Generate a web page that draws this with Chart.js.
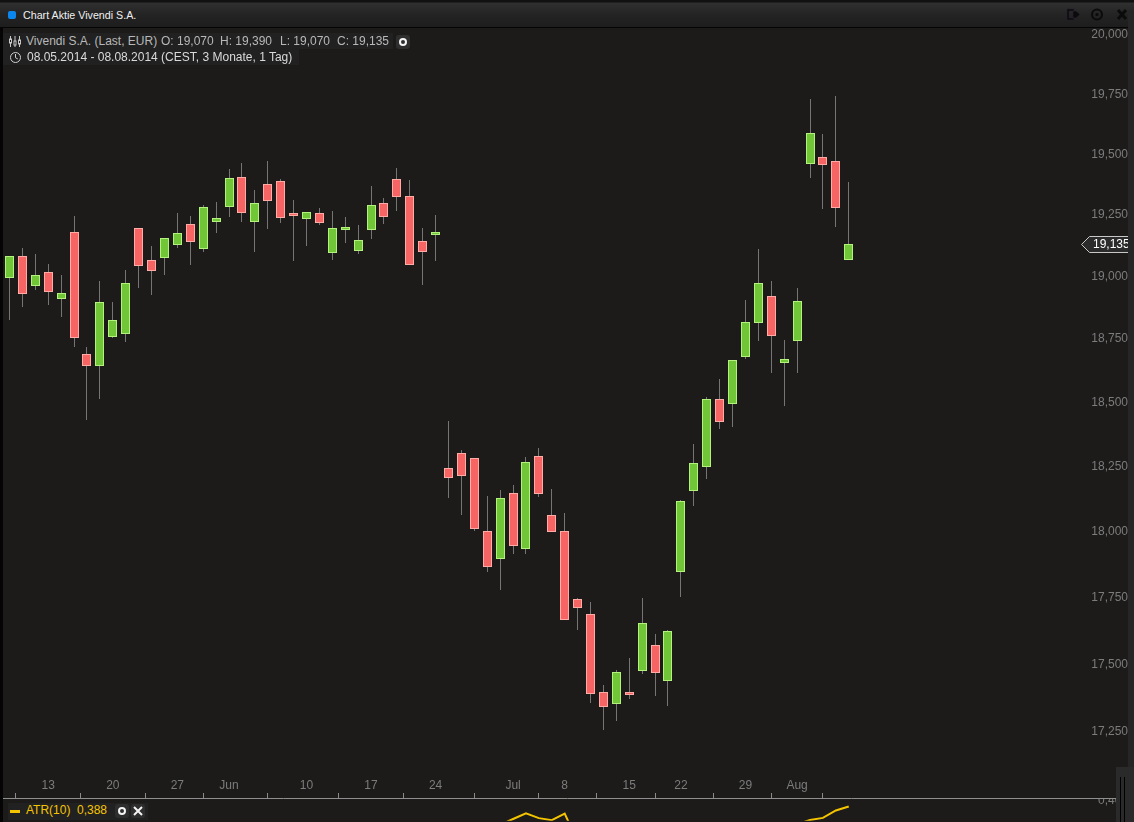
<!DOCTYPE html>
<html lang="de">
<head>
<meta charset="utf-8">
<title>Chart Aktie Vivendi S.A.</title>
<script src="https://cdn.jsdelivr.net/npm/chart.js@4"></script>
<style>
html,body{margin:0;padding:0;background:#1c1b1a;width:1134px;height:822px;overflow:hidden;font-family:"Liberation Sans",Arial,sans-serif}
canvas{position:absolute;left:0;display:block}
.abs{position:absolute;white-space:nowrap}
#titlebar{left:0;top:0;width:1134px;height:28px;box-sizing:border-box;background:linear-gradient(#111 0,#111 2px,#303030 3px,#242424 14px,#1d1d1d 27px);border-bottom:1px solid #050505}
#leftedge{left:0;top:28px;width:3px;height:794px;background:#050505}
#strip{left:1128px;top:10px;width:6px;height:757px;background:#262626}
#scroll{left:1116px;top:767px;width:18px;height:55px;background:#2a2a2a}
.txt{font-size:12px;line-height:14px}
.btn{width:14px;height:14px;border-radius:3px;background:#2e2e2e}
</style>
</head>
<body>
<canvas id="price" width="1134" height="800" style="top:0"></canvas>
<canvas id="atr" width="1134" height="23" style="top:799px"></canvas>

<div class="abs" id="titlebar"></div>
<div class="abs" style="left:8px;top:11px;width:8px;height:8px;border-radius:2px;background:#0a86ee"></div>
<div class="abs" style="left:23px;top:8px;font-size:10.7px;line-height:14px;color:#f0f0f0">Chart Aktie Vivendi S.A.</div>
<svg class="abs" style="left:1064px;top:6px" width="66" height="17" viewBox="0 0 66 17">
  <path d="M3 3h7v2H5v7h5v2H3z M9 5h3l4 3.5-4 3.5H9z" fill="#0b0b0b" stroke="#2a2030" stroke-width=".6"/>
  <circle cx="33" cy="8.5" r="5" fill="none" stroke="#0b0b0b" stroke-width="2"/><circle cx="33" cy="8.5" r="1.6" fill="#0b0b0b"/>
  <path d="M54 4l8 9M62 4l-8 9" stroke="#0b0b0b" stroke-width="3"/>
</svg>

<div class="abs" style="left:3px;top:33px;width:390px;height:16px;background:#212121"></div>
<div class="abs" style="left:3px;top:49px;width:296px;height:16px;background:#212121"></div>
<svg class="abs" style="left:8px;top:35px" width="14" height="13" viewBox="0 0 14 13">
  <g stroke="#c8c8c8" fill="none" stroke-width="1"><path d="M2.5 1v11M7 1v11M11.5 1v11"/><rect x="1.5" y="4" width="2" height="4" fill="#1c1c1c"/><rect x="6" y="6" width="2" height="4" fill="#1c1c1c"/><rect x="10.5" y="5" width="2" height="4" fill="#1c1c1c"/></g>
</svg>
<svg class="abs" style="left:9px;top:51px" width="13" height="13" viewBox="0 0 13 13">
  <circle cx="6.5" cy="6.5" r="5" fill="none" stroke="#d0d0d0" stroke-width="1"/><path d="M6.5 3v3.7l2.3 1.3" fill="none" stroke="#d0d0d0" stroke-width="1"/>
</svg>
<div class="abs txt" style="left:26px;top:34px;color:#b8b8b8">Vivendi S.A. (Last, EUR)</div>
<div class="abs txt" style="left:161px;top:34px;color:#b8b8b8">O: 19,070</div>
<div class="abs txt" style="left:220px;top:34px;color:#b8b8b8">H: 19,390</div>
<div class="abs txt" style="left:280px;top:34px;color:#b8b8b8">L: 19,070</div>
<div class="abs txt" style="left:337px;top:34px;color:#b8b8b8">C: 19,135</div>
<div class="abs btn" style="left:396px;top:35px"></div>
<svg class="abs" style="left:396px;top:35px" width="14" height="14"><circle cx="7" cy="7" r="3" fill="none" stroke="#f4f4f4" stroke-width="2"/></svg>
<div class="abs txt" style="left:27px;top:50px;color:#dadada">08.05.2014 - 08.08.2014 (CEST, 3 Monate, 1 Tag)</div>

<div class="abs" id="leftedge"></div>
<div class="abs" id="strip"></div>
<div class="abs" id="scroll"></div>
<div class="abs" style="left:1120px;top:777px;width:1px;height:45px;background:#000"></div>
<div class="abs" style="left:1124px;top:777px;width:1px;height:45px;background:#000"></div>

<div class="abs" style="left:8px;top:803px;width:140px;height:17px;background:#212121"></div>
<div class="abs" style="left:10px;top:810px;width:10px;height:3px;background:#f5c400"></div>
<div class="abs txt" style="left:26px;top:803px;color:#f5c400">ATR(10)</div>
<div class="abs txt" style="left:77px;top:803px;color:#f5c400">0,388</div>
<div class="abs btn" style="left:115px;top:804px"></div>
<svg class="abs" style="left:115px;top:804px" width="14" height="14"><circle cx="7" cy="7" r="3" fill="none" stroke="#f4f4f4" stroke-width="2"/></svg>
<div class="abs btn" style="left:131px;top:804px"></div>
<svg class="abs" style="left:131px;top:804px" width="14" height="14"><path d="M3 3l8 8M11 3l-8 8" stroke="#f4f4f4" stroke-width="2"/></svg>

<script>
// Prices in EUR, one entry per trading day
const opens = [19.000,19.087,18.968,19.022,18.915,19.184,18.694,18.649,18.764,18.776,19.201,19.070,19.081,19.134,19.217,19.117,19.227,19.289,19.410,19.224,19.381,19.394,19.254,19.239,19.262,19.101,19.194,19.109,19.195,19.303,19.402,19.331,19.148,19.174,18.250,18.308,18.285,18.004,17.900,18.150,17.938,18.293,18.066,18.004,17.747,17.690,17.400,17.355,17.397,17.480,17.575,17.440,17.848,18.160,18.253,18.516,18.498,18.684,18.820,18.925,18.661,18.748,19.466,19.492,19.475,19.070];
const highs = [19.087,19.120,19.096,19.055,19.011,19.251,18.723,18.988,18.902,19.031,19.201,19.128,19.160,19.263,19.251,19.296,19.308,19.444,19.468,19.356,19.477,19.402,19.316,19.267,19.283,19.271,19.247,19.213,19.373,19.324,19.448,19.399,19.202,19.255,18.431,18.317,18.285,18.139,18.163,18.182,18.290,18.325,18.167,18.074,17.752,17.737,17.427,17.483,17.527,17.752,17.617,17.630,18.124,18.341,18.524,18.596,18.670,18.910,19.116,18.988,18.751,18.958,19.734,19.588,19.747,19.390];
const lows = [18.830,18.883,18.950,18.890,18.843,18.724,18.435,18.518,18.759,18.743,18.958,18.930,19.011,19.120,19.053,19.104,19.181,19.247,19.226,19.104,19.198,19.222,19.068,19.128,19.213,19.071,19.141,19.096,19.157,19.218,19.271,19.053,18.969,19.068,18.132,18.067,18.005,17.850,17.782,17.918,17.918,18.136,18.002,17.670,17.632,17.361,17.262,17.295,17.376,17.468,17.387,17.350,17.755,18.101,18.205,18.400,18.408,18.675,18.745,18.618,18.491,18.618,19.405,19.280,19.204,19.070];
const closes = [19.087,18.935,19.010,18.944,18.937,18.760,18.649,18.901,18.829,18.977,19.049,19.028,19.160,19.180,19.146,19.286,19.241,19.405,19.264,19.303,19.313,19.242,19.250,19.265,19.220,19.201,19.201,19.152,19.294,19.247,19.330,19.053,19.105,19.184,18.210,18.218,18.014,17.870,18.134,17.949,18.270,18.148,18.002,17.670,17.715,17.395,17.347,17.474,17.391,17.657,17.473,17.628,18.119,18.266,18.516,18.428,18.670,18.821,18.977,18.768,18.674,18.905,19.591,19.461,19.285,19.135];
// ATR(10): only the stretches that rise into the visible strip of the lower pane
const atrIndex = [38,39,40,41,42,43,44,null,61,62,63,64,65];
const atrValues = [0.306,0.332,0.357,0.336,0.327,0.356,0.232,null,0.308,0.328,0.337,0.370,0.388];
const priceTicks = [20,19.75,19.5,19.25,19,18.75,18.5,18.25,18,17.75,17.5,17.25];
const dayTickIndex = [3,8,13,17,23,28,33,39,43,48,52,57,61];
const dayTickLabels = ['13','20','27','Jun','10','17','24','Jul','8','15','22','29','Aug'];

const deNum = v => v.toFixed(3).replace('.', ',');
const UP = {fill:'#70c636', edge:'#b4f27e'};
const DOWN = {fill:'#f66464', edge:'#ffaca6'};
const isUp = i => closes[i] >= opens[i];
const AXIS_FONT = {family:'"Liberation Sans", Arial, sans-serif', size:12};
const AXIS_COLOR = '#7c7c7c';
const X_MIN = -0.73774, X_MAX = 87.0943;

// Snap the bars to device pixels so candles stay crisp, as in the original
const crispBars = {
  id:'crispBars',
  beforeDatasetsDraw(chart){
    chart.getSortedVisibleDatasetMetas().forEach(m=>{
      m.data.forEach(el=>{
        el.x = Math.floor(el.x)+0.5;
        const top = Math.round(el.y), base = Math.round(el.base);
        el.y = top; el.base = base; el.height = base-top;
      });
    });
  }
};
// Last-price marker on the right axis
const lastPriceTag = {
  id:'lastPriceTag',
  afterDatasetsDraw(chart){
    const c = chart.ctx, v = closes[closes.length-1];
    const y = Math.round(chart.scales.y.getPixelForValue(v))+0.5;
    c.save();
    c.beginPath();
    c.moveTo(1081.5,y);c.lineTo(1089.5,y-8);c.lineTo(1134,y-8);c.lineTo(1134,y+8);c.lineTo(1089.5,y+8);c.closePath();
    c.fillStyle='#2b2b2b';c.fill();
    c.strokeStyle='#c8c8c8';c.lineWidth=1;c.stroke();
    c.fillStyle='#ffffff';c.font='12px "Liberation Sans", Arial, sans-serif';c.textBaseline='middle';c.textAlign='left';
    c.fillText(deNum(v),1093,y);
    c.restore();
  }
};

const idx = opens.map((_,i)=>i);
new Chart(document.getElementById('price'),{
  type:'bar',
  data:{datasets:[
    {label:'Körper',order:1,grouped:false,barThickness:9,minBarLength:3,borderWidth:1,borderSkipped:false,inflateAmount:0,
     data:idx.map(i=>({x:i,y:[opens[i],closes[i]]})),
     backgroundColor:idx.map(i=>isUp(i)?UP.fill:DOWN.fill),
     borderColor:idx.map(i=>isUp(i)?UP.edge:DOWN.edge)},
    {label:'Docht',order:2,grouped:false,barThickness:1,borderWidth:0,borderSkipped:false,inflateAmount:0,
     data:idx.map(i=>({x:i,y:[lows[i],highs[i]]})),
     backgroundColor:'#757575'}
  ]},
  options:{
    responsive:false,animation:false,devicePixelRatio:1,events:[],
    layout:{padding:{top:28,bottom:2,left:0,right:0}},
    plugins:{legend:{display:false},tooltip:{enabled:false}},
    scales:{
      x:{type:'linear',position:'bottom',min:X_MIN,max:X_MAX,offset:false,
        afterBuildTicks:s=>{s.ticks=dayTickIndex.map(v=>({value:v}));},
        afterFit:s=>{s.height=0;s.paddingLeft=0;s.paddingRight=0;},
        grid:{display:true,drawOnChartArea:false,drawTicks:true,tickLength:-5,tickColor:'#8a8a8a',tickWidth:1},
        border:{display:true,color:'#8f8f8f',width:1},
        ticks:{mirror:true,padding:5,color:AXIS_COLOR,font:AXIS_FONT,autoSkip:false,maxRotation:0,minRotation:0,
          callback:v=>dayTickLabels[dayTickIndex.indexOf(v)]}},
      y:{type:'logarithmic',position:'right',bounds:'data',min:17.014,max:20.034,
        afterBuildTicks:s=>{s.ticks=priceTicks.map(v=>({value:v}));},
        afterFit:s=>{s.width=0;},
        grid:{display:false},border:{display:false},
        ticks:{mirror:true,padding:-6,labelOffset:-1,color:AXIS_COLOR,font:AXIS_FONT,autoSkip:false,
          callback:v=>deNum(v)}}
    }
  },
  plugins:[crispBars,lastPriceTag]
});

new Chart(document.getElementById('atr'),{
  type:'line',
  data:{datasets:[{label:'ATR(10)',
    data:atrIndex.map((x,k)=>({x:x===null?50:x,y:atrValues[k]})),
    borderColor:'#f5c400',borderWidth:2,pointRadius:0,tension:0,spanGaps:false,fill:false}]},
  options:{
    responsive:false,animation:false,devicePixelRatio:1,events:[],
    layout:{padding:0},
    plugins:{legend:{display:false},tooltip:{enabled:false}},
    scales:{
      x:{type:'linear',display:false,min:X_MIN,max:X_MAX},
      y:{type:'linear',position:'right',min:0.324,max:0.416,
        afterBuildTicks:s=>{s.ticks=[{value:0.4}];},
        afterFit:s=>{s.width=0;},
        grid:{display:false},border:{display:false},
        ticks:{mirror:true,padding:-6,labelOffset:-3,color:AXIS_COLOR,font:AXIS_FONT,autoSkip:false,
          callback:v=>deNum(v)}}
    }
  }
});
</script>
</body>
</html>
